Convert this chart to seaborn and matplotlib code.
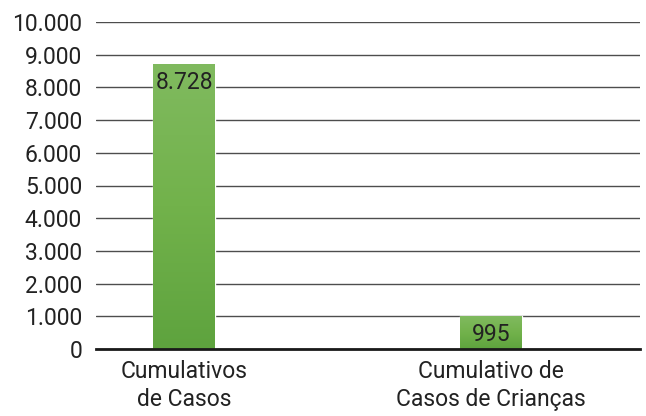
import matplotlib
matplotlib.use("Agg")
import matplotlib.pyplot as plt
import seaborn as sns
import numpy as np
import pandas as pd
from matplotlib.colors import LinearSegmentedColormap
from matplotlib.ticker import FuncFormatter

categories = ["Cumulativos\nde Casos", "Cumulativo de\nCasos de Crianças"]
values = [8728, 995]
value_labels = ["8.728", "995"]
yticks = [0, 1000, 2000, 3000, 4000, 5000, 6000, 7000, 8000, 9000, 10000]

sns.set_theme(style="white")
plt.rcParams['font.family'] = ['Roboto', 'DejaVu Sans']

fig = plt.figure(figsize=(6.46, 4.16), dpi=100)
ax = fig.add_axes([96/646, 1-349/416, (640-96)/646, (349-22)/416])

df = pd.DataFrame({"cat": categories, "val": values})
sns.barplot(data=df, x="cat", y="val", ax=ax, color="#6aae47", width=0.2, saturation=1, zorder=3)

cmap = LinearSegmentedColormap.from_list("g", ["#5ea33e", "#72b24b", "#80ba5f"])
grad = np.linspace(0, 1, 256).reshape(-1, 1)
for p in ax.patches:
    x0, y0 = p.get_x(), p.get_y()
    w, h = p.get_width(), p.get_height()
    im = ax.imshow(grad, cmap=cmap, origin="lower", aspect="auto",
                   extent=[x0, x0 + w, y0, y0 + h], zorder=4)
    im.set_clip_path(p)

ax.set_xlim(-0.287, 1.485)
ax.set_ylim(0, 10000)
ax.set_yticks(yticks)
ax.yaxis.set_major_formatter(FuncFormatter(lambda v, _: f"{int(v):,}".replace(",", ".")))
ax.grid(axis="y", color="#4d4d4d", linewidth=1.0, zorder=0)
ax.set_axisbelow(True)
for s in ["left", "right", "top"]:
    ax.spines[s].set_visible(False)
ax.spines["bottom"].set_color("#1a1a1a")
ax.spines["bottom"].set_linewidth(2)
ax.spines["bottom"].set_zorder(6)
ax.tick_params(axis="both", length=0, labelsize=16.5, labelcolor="#222222")
ax.tick_params(axis="y", pad=10)
ax.tick_params(axis="x", pad=8)
for t in ax.get_xticklabels():
    t.set_linespacing(1.25)
ax.set_xlabel("")
ax.set_ylabel("")

for p, lab in zip(ax.patches, value_labels):
    ax.annotate(lab, (p.get_x() + p.get_width() / 2, p.get_height()),
                xytext=(0, -5), textcoords="offset points",
                ha="center", va="top", fontsize=16.5, color="#222222", zorder=7)

fig.savefig("out.png", dpi=100)
